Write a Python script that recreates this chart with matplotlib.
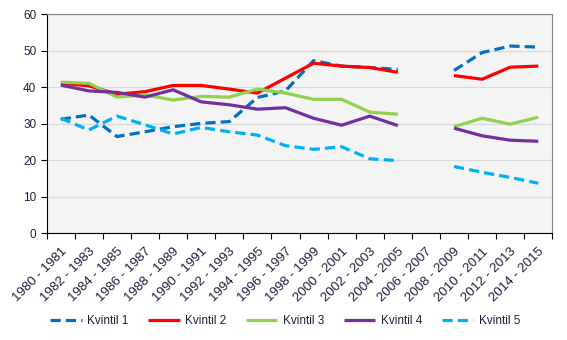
import numpy as np
import matplotlib.pyplot as plt
from matplotlib.transforms import ScaledTranslation

plt.rcParams['font.family'] = ['Liberation Sans', 'DejaVu Sans']

# periods on the x axis
periods = ["1980 - 1981", "1982 - 1983", "1984 - 1985", "1986 - 1987", "1988 - 1989",
           "1990 - 1991", "1992 - 1993", "1994 - 1995", "1996 - 1997", "1998 - 1999",
           "2000 - 2001", "2002 - 2003", "2004 - 2005", "2006 - 2007", "2008 - 2009",
           "2010 - 2011", "2012 - 2013", "2014 - 2015"]

nan = np.nan
kvintil1 = [31.2, 32.4, 26.5, 27.8, 29.2, 30.1, 30.6, 37.2, 39.0, 47.3, 45.8, 45.4, 44.9, nan, 44.6, 49.5, 51.3, 51.0]
kvintil2 = [41.1, 40.4, 38.1, 38.8, 40.5, 40.5, 39.5, 38.4, 42.5, 46.6, 45.8, 45.4, 44.1, nan, 43.2, 42.2, 45.5, 45.8]
kvintil3 = [41.4, 41.1, 37.3, 37.9, 36.5, 37.5, 37.3, 39.5, 38.4, 36.7, 36.7, 33.2, 32.6, nan, 29.2, 31.5, 29.9, 31.8]
kvintil4 = [40.6, 39.0, 38.6, 37.3, 39.3, 36.0, 35.2, 34.0, 34.4, 31.5, 29.6, 32.1, 29.5, nan, 28.8, 26.7, 25.5, 25.2]
kvintil5 = [31.5, 28.3, 32.1, 29.7, 27.2, 29.0, 27.8, 26.9, 24.0, 23.0, 23.7, 20.4, 19.9, nan, 18.3, 16.7, 15.3, 13.7]

series = [
    ("Kvintil 1", kvintil1, "#0070C0", True),
    ("Kvintil 2", kvintil2, "#FF0000", False),
    ("Kvintil 3", kvintil3, "#92D050", False),
    ("Kvintil 4", kvintil4, "#7030A0", False),
    ("Kvintil 5", kvintil5, "#00B0F0", True),
]

text_col = "#1F1F3F"
fs = 8.5

fig = plt.figure(figsize=(5.67, 3.4), dpi=100)
ax = fig.add_axes([0.0824, 0.314, 0.8917, 0.644])
ax.set_facecolor("#F4F4F4")

x = np.arange(len(periods))
for name, vals, col, dashed in series:
    ls = (0, (3.2, 1.6)) if dashed else "-"
    ax.plot(x, vals, color=col, lw=2.3, ls=ls, label=name,
            solid_capstyle="butt", dash_capstyle="butt")

ax.set_xlim(-0.5, len(periods) - 0.5)
ax.set_ylim(0, 60)
ax.set_yticks(range(0, 61, 10))
ax.yaxis.grid(True, color="#D9D9D9", lw=0.9)
ax.set_axisbelow(True)

# category boundaries carry the ticks, labels sit at the centres
ax.set_xticks(np.arange(-0.5, len(periods), 1.0))
ax.set_xticklabels([])
ax.set_xticks(x, minor=True)
labels = ax.set_xticklabels(periods, minor=True, rotation=45, ha="right", va="top",
                            rotation_mode="anchor", fontsize=9.5, color=text_col)
shift = ScaledTranslation(0.025, 0, fig.dpi_scale_trans)
for lab in labels:
    lab.set_transform(lab.get_transform() + shift)
ax.tick_params(axis="x", which="minor", length=0, pad=9)
ax.tick_params(axis="x", which="major", length=4, width=0.8, color="black")
ax.tick_params(axis="y", length=4, width=0.8, labelsize=fs, labelcolor=text_col)

ax.spines["left"].set_color("black")
ax.spines["bottom"].set_color("black")
ax.spines["top"].set_color("#808080")
ax.spines["right"].set_color("#808080")
for s in ax.spines.values():
    s.set_linewidth(0.8)

leg = fig.legend(loc="center", bbox_to_anchor=(0.503, 0.056), ncol=5, frameon=False,
                 fontsize=fs, handlelength=2.7, handletextpad=0.5, columnspacing=1.6,
                 borderpad=0, borderaxespad=0)
for t in leg.get_texts():
    t.set_color(text_col)

fig.savefig("out.png", dpi=100)
